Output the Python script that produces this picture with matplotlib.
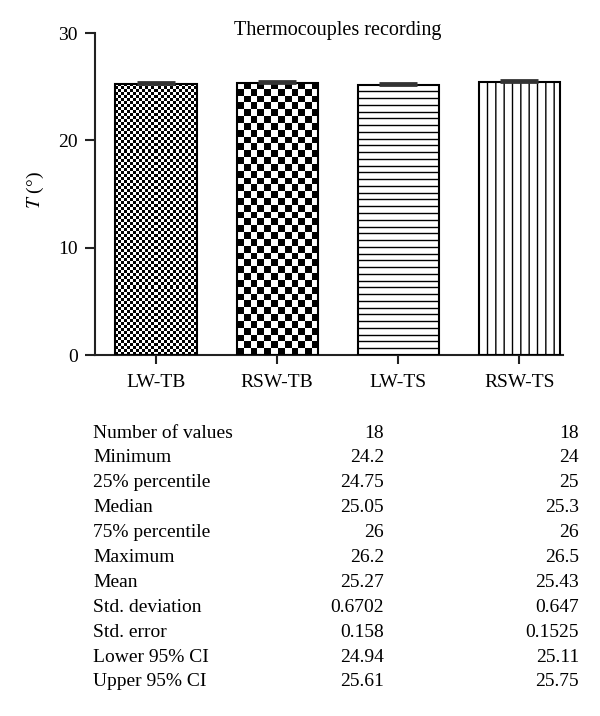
import numpy as np
import matplotlib
matplotlib.use('Agg')
import matplotlib.pyplot as plt

plt.rcParams['font.family'] = ['Liberation Serif', 'DejaVu Serif']
plt.rcParams['mathtext.fontset'] = 'stix'
plt.rcParams['hatch.linewidth'] = 1.0

groups = ['LW-TB', 'RSW-TB', 'LW-TS', 'RSW-TS']
means = [25.27, 25.35, 25.2, 25.43]
sems = [0.158, 0.16, 0.12, 0.1525]

stat_names = ['Number of values', 'Minimum', '25% percentile', 'Median', '75% percentile',
              'Maximum', 'Mean', 'Std. deviation', 'Std. error', 'Lower 95% CI', 'Upper 95% CI']
col1 = ['18', '24.2', '24.75', '25.05', '26', '26.2', '25.27', '0.6702', '0.158', '24.94', '25.61']
col2 = ['18', '24', '25', '25.3', '26', '26.5', '25.43', '0.647', '0.1525', '25.11', '25.75']


def fill_checker(ax, bar, nx, ny):
    x0 = bar.get_x()
    w = bar.get_width()
    h = bar.get_height()
    img = np.indices((ny, nx)).sum(axis=0) % 2
    im = ax.imshow(img, cmap='gray_r', extent=(x0, x0 + w, 0, h), aspect='auto',
                   interpolation='nearest', zorder=2)
    im.set_clip_path(bar)


def fill_hlines(ax, bar, n):
    x0 = bar.get_x()
    w = bar.get_width()
    h = bar.get_height()
    ys = np.linspace(0, h, n + 1)[1:-1]
    ax.hlines(ys, x0, x0 + w, colors='black', lw=1.0, zorder=2)


fig = plt.figure(figsize=(6, 7.16), dpi=100)
ax = fig.add_axes([95 / 600, 1 - 355 / 716, 468 / 600, 322 / 716])

x = np.arange(len(groups))
bars = ax.bar(x, means, width=0.67, facecolor='none', edgecolor='black', lw=1.5, zorder=3)
bars[3].set_hatch('||')
fill_checker(ax, bars[0], 27, 90)
fill_checker(ax, bars[1], 12, 40)
fill_hlines(ax, bars[2], 40)

ax.errorbar(x, means, yerr=[np.zeros(len(sems)), sems], fmt='none', ecolor='#333333',
            elinewidth=1.2, capsize=14, capthick=2, zorder=4)

ax.set_xlim(-0.504, 3.36)
ax.set_ylim(0, 30)
ax.set_yticks([0, 10, 20, 30])
ax.set_xticks(x)
ax.set_xticklabels(groups)
ax.spines['top'].set_visible(False)
ax.spines['right'].set_visible(False)
for s in ['left', 'bottom']:
    ax.spines[s].set_linewidth(1.5)
    ax.spines[s].set_color('#222222')
ax.tick_params(axis='y', length=7.2, width=1.5, pad=5, labelsize=14, color='#222222')
ax.tick_params(axis='x', length=6.5, width=1.5, pad=7, labelsize=14, color='#222222')

fig.text(338 / 600, 1 - 30 / 716, 'Thermocouples recording', ha='center', va='center', fontsize=14.5)
fig.text(35 / 600, 1 - 190 / 716, '$T$ (°)', ha='center', va='center', rotation=90, fontsize=14)

for i, name in enumerate(stat_names):
    yy = 1 - (433 + i * 24.9) / 716
    fig.text(93 / 600, yy, name, ha='left', va='center', fontsize=14)
    fig.text(384 / 600, yy, col1[i], ha='right', va='center', fontsize=14)
    fig.text(579 / 600, yy, col2[i], ha='right', va='center', fontsize=14)

fig.savefig('out.png', dpi=100)
